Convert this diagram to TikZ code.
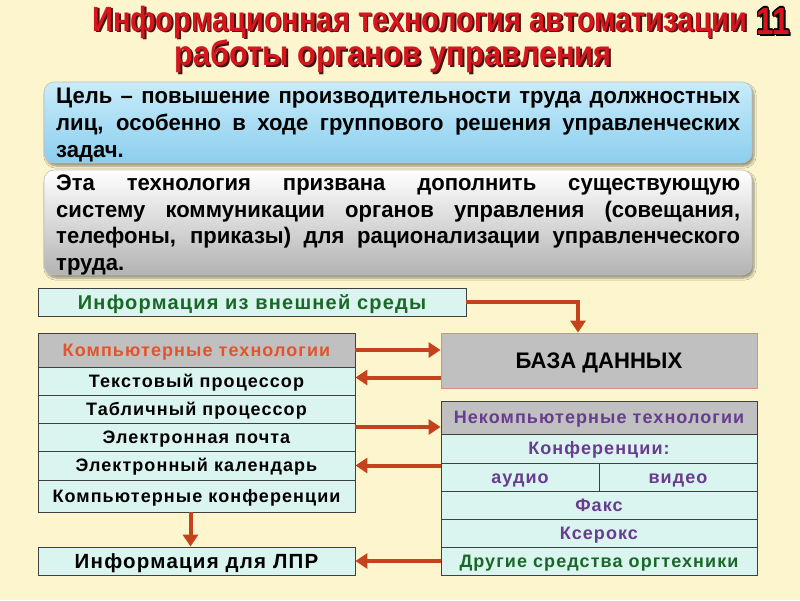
\documentclass[tikz,border=0pt]{standalone}
\usepackage{fontspec}
\setmainfont{Liberation Sans}
\newfontfamily\titlef[FakeStretch=0.83]{Liberation Sans}
\newfontfamily\titlefb[FakeStretch=0.88]{Liberation Sans}
\newfontfamily\boxf[FakeStretch=0.98]{Liberation Sans}
\newfontfamily\cellf[LetterSpace=6]{Liberation Sans}
\usetikzlibrary{arrows.meta,shadows,shadows.blur,calc}
\definecolor{bgc}{RGB}{252,245,206}
\definecolor{titler}{RGB}{214,22,28}
\definecolor{titles}{RGB}{70,20,20}
\definecolor{cyanc}{RGB}{218,244,240}
\definecolor{grayc}{RGB}{192,192,192}
\definecolor{arrowc}{RGB}{196,66,28}
\definecolor{greent}{RGB}{26,104,40}
\definecolor{oranget}{RGB}{226,84,44}
\definecolor{purplet}{RGB}{104,60,142}
\definecolor{blueTop}{RGB}{200,236,250}
\definecolor{blueBot}{RGB}{140,206,238}
\tikzset{
  cell/.style={draw=black!75, line width=0.8pt, fill=cyanc, inner sep=0pt, anchor=center,
    text height=12.9pt, text depth=0pt,
    font=\cellf\bfseries\fontsize{18}{20}\selectfont},
  arr/.style={draw=arrowc, line width=4pt, -{Triangle[length=12pt,width=15pt]}},
  roundbox/.style={rounded corners=10pt, draw=black!25, line width=0.6pt, blur shadow={shadow xshift=2pt, shadow yshift=-3pt, shadow blur steps=6}},
  boxtext/.style={font=\boxf\bfseries\fontsize{22.5}{26.7}\selectfont, align=left, inner sep=0pt, anchor=north west},
  titletext/.style={font=\titlef\bfseries\fontsize{35}{40}\selectfont},
  titletextb/.style={font=\titlefb\bfseries\fontsize{35}{40}\selectfont}
}
\begin{document}
\begin{tikzpicture}[x=1pt,y=-1pt]
\useasboundingbox (0,0) rectangle (800,600);
\fill[bgc] (0,0) rectangle (800,600);
% title
\node[titletext, text=titles] at (421.8,23.8) {Информационная технология автоматизации};
\node[titletextb, text=titles] at (394.8,57.8) {работы органов управления};
\node[titletext, text=titler] (t1) at (420,22) {Информационная технология автоматизации};
\node[titletextb, text=titler] (t2) at (393,56) {работы органов управления};
\foreach \dx/\dy in {-1.2/0,1.2/0,0/-1.2,0/1.2,1/1,-1/-1,1/-1,-1/1,2.2/2.2}{
  \node[text=black, font=\titlef\bfseries\fontsize{38}{40}\selectfont] at (773+\dx,21+\dy) {11};
}
\node[text=titler, font=\titlef\bfseries\fontsize{38}{40}\selectfont] (num) at (773,21) {11};
% goal box
\path[roundbox, top color=blueTop, bottom color=blueBot] (44,82) rectangle (752,163);
\node[boxtext] (goal) at (56,88) {%
\hbox to 684pt{Цель – повышение производительности труда должностных}\\
\hbox to 684pt{лиц, особенно в ходе группового решения управленческих}\\
\hbox to 684pt{задач.\hfil}};
% purpose box
\path[roundbox, top color=white, bottom color=black!30] (44,170) rectangle (752,275);
\node[boxtext] (purp) at (56,174.5) {%
\hbox to 684pt{Эта технология призвана дополнить существующую}\\
\hbox to 684pt{систему коммуникации органов управления (совещания,}\\
\hbox to 684pt{телефоны, приказы) для рационализации управленческого}\\
\hbox to 684pt{труда.\hfil}};
% left column
\node[cell, minimum width=428pt, minimum height=28pt, text=greent, text height=14.3pt, font=\cellf\bfseries\fontsize{20}{22}\selectfont] (ext) at (252,302) {Информация из внешней среды};
\node[cell, fill=grayc, minimum width=317pt, minimum height=34pt, text=oranget] (ct) at (196.5,350) {Компьютерные технологии};
\node[cell, minimum width=317pt, minimum height=28pt] (tp) at (196.5,381) {Текстовый процессор};
\node[cell, minimum width=317pt, minimum height=28pt] (tab) at (196.5,409) {Табличный процессор};
\node[cell, minimum width=317pt, minimum height=28pt] (mail) at (196.5,437) {Электронная почта};
\node[cell, minimum width=317pt, minimum height=29pt] (cal) at (196.5,465.5) {Электронный календарь};
\node[cell, minimum width=317pt, minimum height=32pt] (conf) at (196.5,496) {Компьютерные конференции};
\node[cell, minimum width=317pt, minimum height=28pt, text height=14.7pt, font=\cellf\bfseries\fontsize{20.5}{22}\selectfont] (lpr) at (196.5,561) {Информация для ЛПР};
% right column
\node[cell, draw=arrowc!60, fill=grayc, minimum width=316pt, minimum height=55pt, text height=16.1pt, font=\boxf\bfseries\fontsize{22.5}{24}\selectfont] (db) at (599,360.5) {БАЗА ДАННЫХ};
\node[cell, fill=grayc, minimum width=316pt, minimum height=33pt, text=purplet] (nc) at (599,417.5) {Некомпьютерные технологии};
\node[cell, minimum width=316pt, minimum height=29pt, text=purplet] (cf) at (599,448.5) {Конференции:};
\node[cell, minimum width=158pt, minimum height=28pt, text=purplet] (aud) at (520,477) {аудио};
\node[cell, minimum width=158pt, minimum height=28pt, text=purplet] (vid) at (678,477) {видео};
\node[cell, minimum width=316pt, minimum height=28pt, text=purplet] (fax) at (599,505) {Факс};
\node[cell, minimum width=316pt, minimum height=28pt, text=purplet] (xer) at (599,533) {Ксерокс};
\node[cell, minimum width=316pt, minimum height=28pt, text=greent] (oth) at (599,561) {Другие средства оргтехники};
% arrows
\draw[arr] (ext.east) -| ($(db.north)+(-21,0)$);
\draw[arr] (ct.east) -- (ct.east -| db.west);
\draw[arr] ($(db.west)+(0,17)$) coordinate (a1) -- (a1 -| tp.east);
\draw[arr] ($(mail.east)+(0,-10)$) coordinate (a2) -- (a2 -| nc.west);
\draw[arr] (cal.east -| aud.west) -- (cal.east);
\draw[arr] (oth.west) -- (lpr.east);
\draw[arr] ($(conf.south)+(-6,0)$) -- ($(lpr.north)+(-6,0)$);
\end{tikzpicture}
\end{document}
